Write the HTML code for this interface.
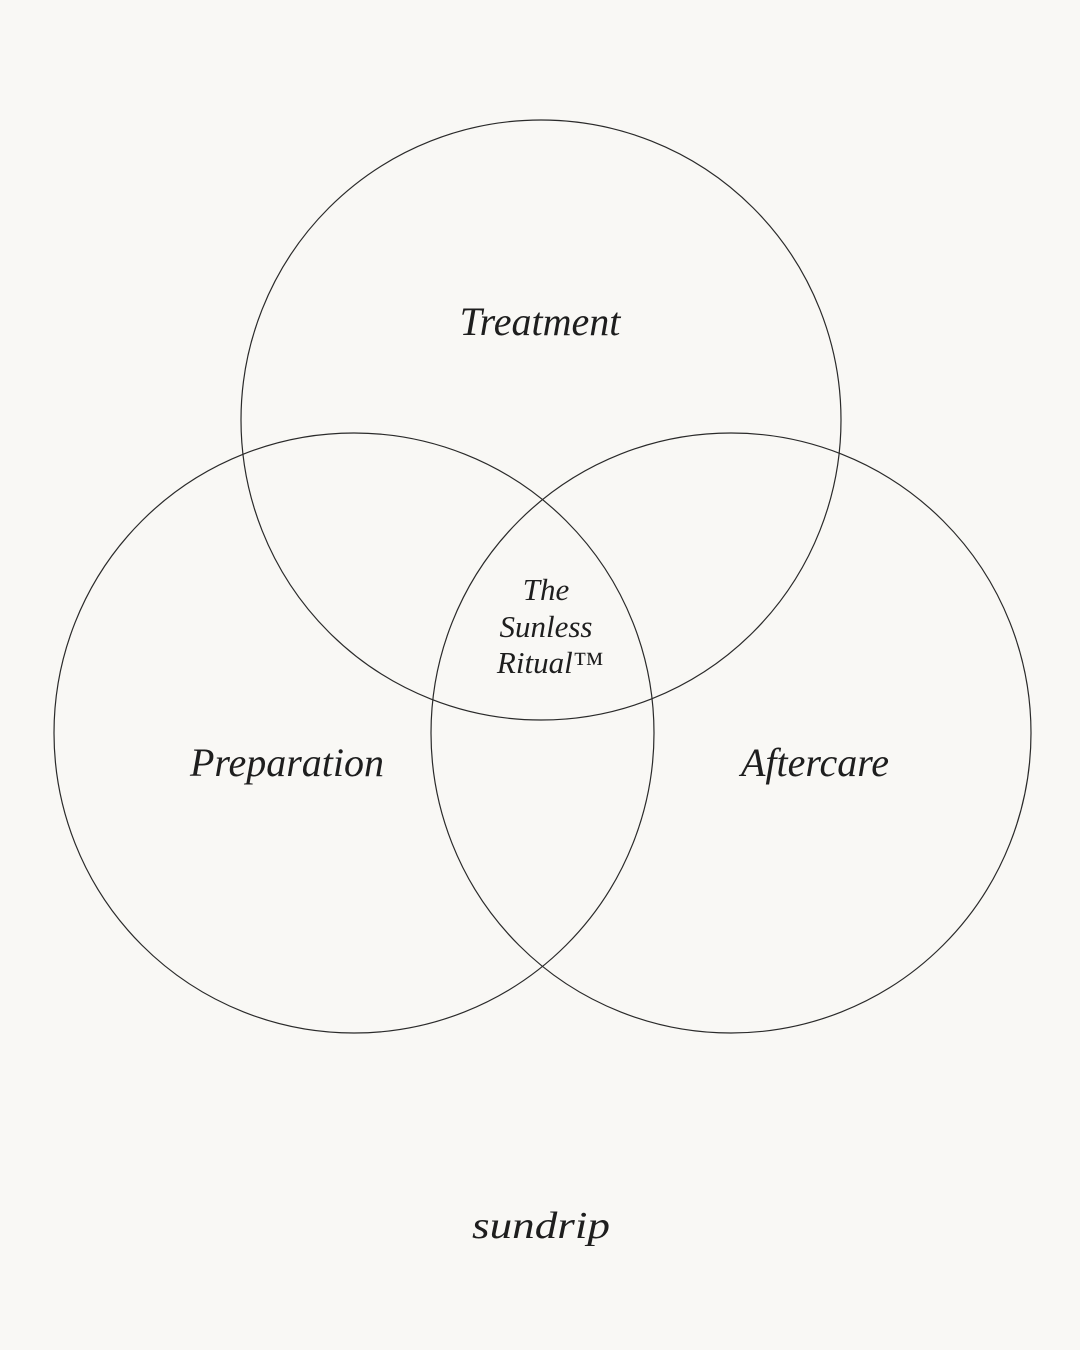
<!DOCTYPE html>
<html><head><meta charset="utf-8"><style>
html,body{margin:0;padding:0;background:#f9f8f5;}
svg{display:block}
text{font-family:"Liberation Serif",serif;font-style:italic;fill:#1e1e1e;}
</style></head><body>
<svg width="1080" height="1350" viewBox="0 0 1080 1350" xmlns="http://www.w3.org/2000/svg">
<rect width="1080" height="1350" fill="#f9f8f5"/>
<g fill="none" stroke="#2a2a2a" stroke-width="1.2">
<circle cx="541" cy="420" r="300"/>
<circle cx="354" cy="733" r="300"/>
<circle cx="731" cy="733" r="300"/>
</g>
<text x="540" y="335" font-size="40" text-anchor="middle">Treatment</text>
<text x="287" y="776" font-size="40" text-anchor="middle">Preparation</text>
<text x="815" y="776" font-size="40" text-anchor="middle">Aftercare</text>
<text x="546" y="600" font-size="31" text-anchor="middle">The</text>
<text x="546" y="637" font-size="31" text-anchor="middle">Sunless</text>
<text x="550" y="673" font-size="31" text-anchor="middle">Ritual™</text>
<text x="541" y="1238" font-size="38" text-anchor="middle" fill="#555" textLength="138" lengthAdjust="spacingAndGlyphs">sundrip</text>
</svg>
</body></html>
